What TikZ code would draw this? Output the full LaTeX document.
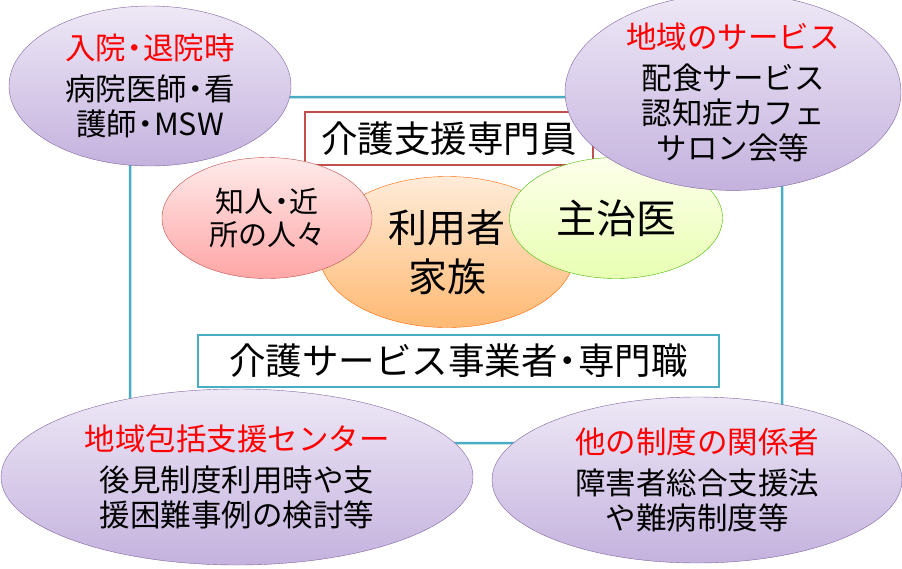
\documentclass[tikz,border=0pt]{standalone}
\usepackage{fontspec}
\setmainfont{Noto Sans CJK JP}
\usetikzlibrary{shapes.geometric}
\definecolor{framecol}{HTML}{4BACC6}
\definecolor{redbox}{HTML}{C0504D}
\definecolor{violetline}{HTML}{8064A2}
\definecolor{violettop}{HTML}{EEE8F6}
\definecolor{violetbottom}{HTML}{C4B2DE}
\definecolor{titlered}{HTML}{FF0000}
\newcommand\nakaguro{\hspace{-0.22em}・\hspace{-0.22em}}
\begin{document}
\begin{tikzpicture}
[x=1pt,y=-1pt,
  ovaldecorate/.style={shape=ellipse,inner sep=0pt,draw=violetline,
    top color=violettop,bottom color=violetbottom,align=center,
    font=\fontsize{30.5}{35}\selectfont},%
  boxdecorate/.style={shape=rectangle,inner sep=0pt,fill=white,
    font=\fontsize{36.5}{40}\selectfont}]
\useasboundingbox (0,0) rectangle (902,568);
%% frame and boxes
\node (frame) at (456,270) [draw=framecol,line width=2.5pt,rounded corners=14pt,
  minimum width=652,minimum height=346] {};
\node (caremanager) at (449,138.5) [boxdecorate,draw=redbox,line width=2pt,
  minimum width=288,minimum height=53] {介護支援専門員};
\node (provider) at (458.5,361) [boxdecorate,draw=framecol,line width=2pt,
  minimum width=521,minimum height=52] {介護サービス事業者\nakaguro 専門職};
%% centre ovals
\node (user) at (447,252) [ovaldecorate,draw=orange!80!red,
  top color=orange!15,bottom color=orange!55,
  minimum width=256,minimum height=151,
  font=\fontsize{39}{49}\selectfont] {利用者\\家族};
\node (neighbour) at (267,218) [ovaldecorate,draw=redbox,
  top color=red!8,bottom color=red!35,
  minimum width=210,minimum height=121,
  font=\fontsize{29}{33}\selectfont] {知人\nakaguro 近\\所の人々};
\node (doctor) at (616,218) [ovaldecorate,draw=green!45!olive,
  top color=green!10!yellow!8,bottom color=green!30!yellow!30,
  minimum width=213,minimum height=121,
  font=\fontsize{40}{45}\selectfont] {主治医};
%% outer ovals
\foreach \nodename/\x/\y/\w/\h/\title/\body in {
  hospital/150/86/282/160/入院\nakaguro 退院時/{病院医師\nakaguro 看\\護師\nakaguro MSW},
  community/733/92/336/170/地域のサービス/{配食サービス\\認知症カフェ\\サロン会等},
  center/237/477/472/176/地域包括支援センター/{後見制度利用時や支\\援困難事例の検討等},
  system/697/480/410/166/他の制度の関係者/{障害者総合支援法\\や難病制度等}} {
  \node (\nodename) at (\x,\y) [ovaldecorate,minimum width=\w,minimum height=\h]
    {\textcolor{titlered}{\title}\\[6pt]\body};
}
\end{tikzpicture}
\end{document}
